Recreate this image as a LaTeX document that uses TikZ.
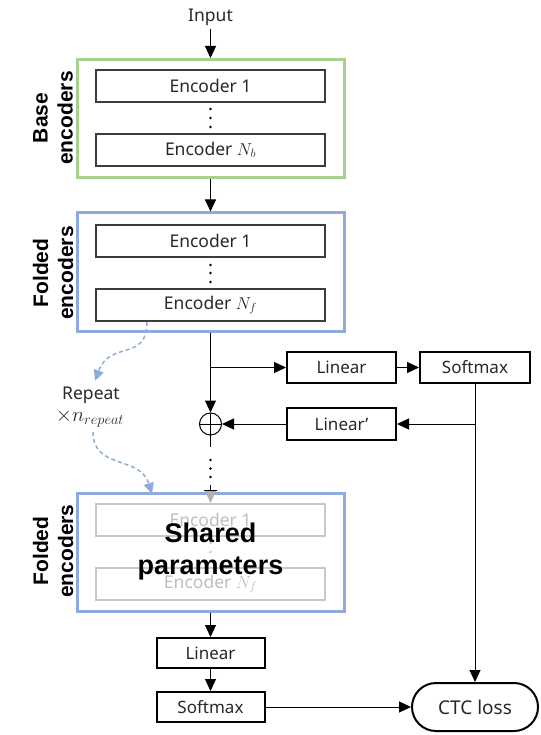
\documentclass[tikz,border=0pt]{standalone}
\usepackage{fontspec}
\setmainfont{Noto Sans}
\newfontfamily\lblfont{Liberation Sans}
\usetikzlibrary{arrows.meta}
\definecolor{gboxc}{RGB}{169,209,142}
\definecolor{bboxc}{RGB}{143,170,220}
\definecolor{encc}{RGB}{60,60,60}
\definecolor{txtc}{RGB}{40,40,40}
\definecolor{fadec}{RGB}{200,200,200}
\definecolor{fadet}{RGB}{190,190,190}
\begin{document}
\begin{tikzpicture}[x=1pt,y=1pt,
  txt/.style={font=\fontsize{17.5}{20}\selectfont, text=txtc},
  encbox/.style={draw=encc, line width=2pt, minimum width=229pt, minimum height=32pt, inner sep=0pt, font=\fontsize{17.5}{20}\selectfont, text=txtc},
  fadebox/.style={encbox, draw=fadec, text=fadet},
  outerbox/.style={line width=3pt, minimum width=267pt, minimum height=118pt, inner sep=0pt},
  blkbox/.style={draw=black, line width=2pt, minimum width=108pt, minimum height=31pt, inner sep=0pt, font=\fontsize{17}{20}\selectfont, text=txtc},
  arr/.style={-{Triangle[length=12pt,width=11pt]}, line width=1pt},
  reparrow/.style={-{Triangle[length=11pt,width=10pt]}, draw=bboxc, fill=none, line width=1.5pt, dash pattern=on 4pt off 3pt},
  sidelbl/.style={rotate=90, align=center, font=\lblfont\bfseries\fontsize{21}{25}\selectfont},
  dotc/.style={fill=black}
]
\useasboundingbox (0,0) rectangle (540,-735);

% input
\node[txt] (input) at (210.5,-17) {Input};

% base encoders
\node[outerbox, draw=gboxc] (base) at (210.5,-118.5) {};
\node[encbox] (b1) at (210.5,-86) {Encoder 1};
\node[encbox] (bn) at (210.5,-150) {Encoder $N_b$};
\foreach \yy in {-109,-118,-127} \fill (210.5,\yy) circle (1.4);
\node[sidelbl] (baselbl) at (53,-118) {Base\\encoders};

% folded encoders 1
\node[outerbox, draw=bboxc] (fold1) at (210.5,-272) {};
\node[encbox] (f11) at (210.5,-241) {Encoder 1};
\node[encbox] (f1n) at (210.5,-305) {Encoder $N_f$};
\foreach \yy in {-265,-273,-282} \fill (210.5,\yy) circle (1.4);
\node[sidelbl] (fold1lbl) at (53,-273) {Folded\\encoders};

\draw[arr] (input) -- (base);
\draw[arr] (base) -- (fold1);

% side branch
\node[blkbox, minimum width=109pt] (lin1) at (341.5,-367.5) {Linear};
\node[blkbox, minimum width=110pt] (sm1) at (475,-367.5) {Softmax};
\node[blkbox, minimum width=109pt, minimum height=32pt] (lin2) at (341.5,-424) {Linear'};
\node[draw=black, line width=1pt, circle, minimum size=22pt, inner sep=0pt] (plus) at (210.5,-424) {};
\draw[line width=1pt] (plus.north) -- (plus.south) (plus.west) -- (plus.east);

\coordinate (br1) at (210.5,-367.5);
\coordinate (br2) at (475,-424);
\draw[arr] (fold1.south) -- (plus.north);
\draw[arr] (br1) -- (lin1.west);
\draw[arr] (lin1) -- (sm1);
\draw[arr] (br2) -- (lin2.east);
\draw[arr] (lin2.west) -- (plus.east);

% folded encoders 2
\node[outerbox, draw=bboxc] (fold2) at (210.5,-552) {};
\node[fadebox] (f21) at (210.5,-520) {Encoder 1};
\node[fadebox] (f2n) at (210.5,-584) {Encoder $N_f$};
\foreach \yy in {-543,-552,-561} \fill[fadec] (210.5,\yy) circle (1.4);
\node[align=center, font=\lblfont\bfseries\fontsize{27}{32}\selectfont] (shared) at (210.5,-552) {Shared\\parameters};
\node[sidelbl] (fold2lbl) at (53,-551) {Folded\\encoders};

% continuation between plus and fold2
\coordinate (g1) at (210.5,-447);
\coordinate (g2) at (210.5,-485);
\draw[line width=1pt] (plus.south) -- (g1);
\foreach \yy in {-460,-468.5,-477} \fill (210.5,\yy) circle (1.4);
\draw[line width=1pt] (g2) -- (fold2.north);
\draw[line width=1pt] (204,-490) -- (217,-490);
\draw[arr, draw=fadec!70!gray, fill=fadec!70!gray] (fold2.north) -- (f21.north);

% repeat
\node[txt, anchor=base] (rep) at (91,-399) {Repeat};
\node[anchor=base, text=txtc, font=\fontsize{20}{24}\selectfont] (rn) at (90,-421) {$\times n_{repeat}$};
\coordinate (rs1) at (147,-322);
\coordinate (re1) at (95,-381);
\coordinate (rs2) at (93,-432);
\coordinate (re2) at (152,-494);
\draw[reparrow] (rs1) .. controls (147,-362) and (110,-340) .. (re1);
\draw[reparrow] (rs2) .. controls (93,-470) and (140,-455) .. (re2);

% output
\node[blkbox, minimum height=30pt] (lin3) at (210.5,-653) {Linear};
\node[blkbox, minimum height=30pt] (sm3) at (210.5,-707) {Softmax};
\node[draw=black, line width=2pt, rounded corners=24pt, minimum width=126pt, minimum height=48pt, inner sep=0pt, font=\fontsize{19}{22}\selectfont, text=txtc] (ctc) at (475,-707) {CTC loss};

\draw[arr] (fold2) -- (lin3);
\draw[arr] (lin3) -- (sm3);
\draw[arr] (sm3) -- (ctc);
\draw[arr] (sm1) -- (ctc);
\end{tikzpicture}
\end{document}
